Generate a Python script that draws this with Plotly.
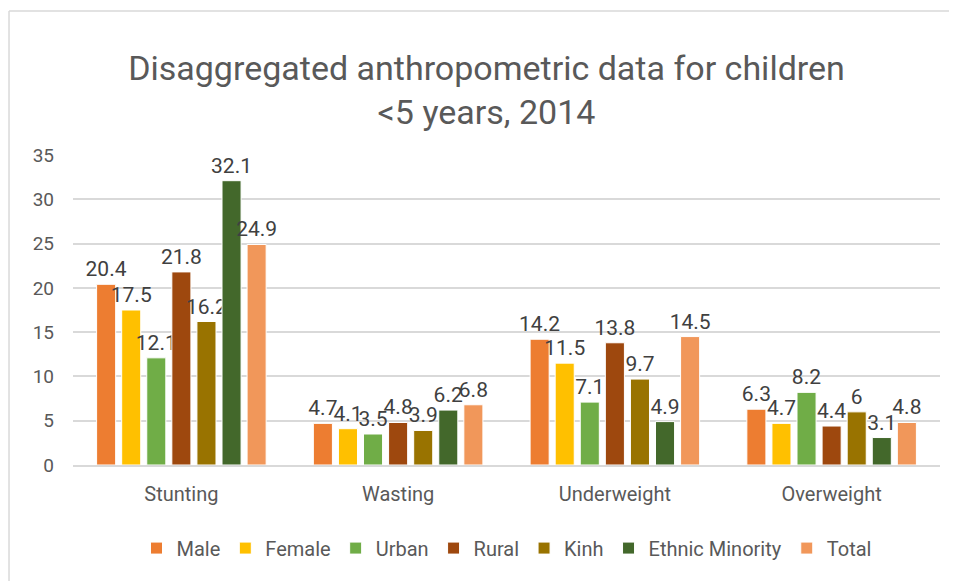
import plotly.graph_objects as go

# ---- data ----
categories = ["Stunting", "Wasting", "Underweight", "Overweight"]
series_names = ["Male", "Female", "Urban", "Rural", "Kinh", "Ethnic Minority", "Total"]
male = [20.4, 4.7, 14.2, 6.3]
female = [17.5, 4.1, 11.5, 4.7]
urban = [12.1, 3.5, 7.1, 8.2]
rural = [21.8, 4.8, 13.8, 4.4]
kinh = [16.2, 3.9, 9.7, 6]
ethnic_minority = [32.1, 6.2, 4.9, 3.1]
total = [24.9, 6.8, 14.5, 4.8]
y_ticks = [0, 5, 10, 15, 20, 25, 30, 35]

values = [male, female, urban, rural, kinh, ethnic_minority, total]
colors = ["#ED7D31", "#FFC000", "#70AD47", "#9E480E", "#997300", "#43682B", "#F1975A"]

FONT = "Roboto, Open Sans, sans-serif"

fig = go.Figure()
for name, vals, col in zip(series_names, values, colors):
    fig.add_trace(go.Bar(
        x=categories, y=vals, name=name,
        marker=dict(color=col, line=dict(color="white", width=1)),
        text=[f"{v:g}" for v in vals], textposition="outside",
        constraintext="none",
        textfont=dict(size=21, color="#404040", family=FONT),
        cliponaxis=False,
    ))

# page body has an 8px margin, so the figure is offset by 8px
fig.update_layout(
    width=957, height=581,
    margin=dict(l=65, r=25, t=147, b=124, autoexpand=False),
    paper_bgcolor="white", plot_bgcolor="white",
    barmode="group", bargap=0.19, bargroupgap=0.24,
    title=dict(text="Disaggregated anthropometric data for children<br><5 years, 2014",
               x=0.5, xanchor="center", y=0.876, yanchor="middle",
               font=dict(family=FONT, size=34, color="#595959")),
    font=dict(family=FONT, color="#595959"),
    legend=dict(orientation="h", x=0.5, xanchor="center", y=-0.268, yanchor="middle",
                font=dict(size=20, color="#595959"), itemwidth=30, traceorder="normal"),
    xaxis=dict(showline=True, linecolor="#D9D9D9", linewidth=2, ticks="", automargin=False,
               ticklabelstandoff=10, tickfont=dict(size=20, color="#595959")),
    yaxis=dict(range=[0, 35], tickvals=y_ticks, showgrid=True, gridcolor="#D9D9D9",
               gridwidth=1.5, zeroline=False, ticks="", ticklabelstandoff=18, automargin=False,
               tickfont=dict(size=19, color="#595959")),
    shapes=[
        dict(type="line", xref="paper", yref="paper", x0=-0.0738, x1=1.05, y0=1.4645, y1=1.4645,
             line=dict(color="#D9D9D9", width=1.5)),
        dict(type="line", xref="paper", yref="paper", x0=-0.0738, x1=-0.0738, y0=1.4645, y1=-0.45,
             line=dict(color="#D9D9D9", width=1.5)),
    ],
)

fig.write_html("out.html")
